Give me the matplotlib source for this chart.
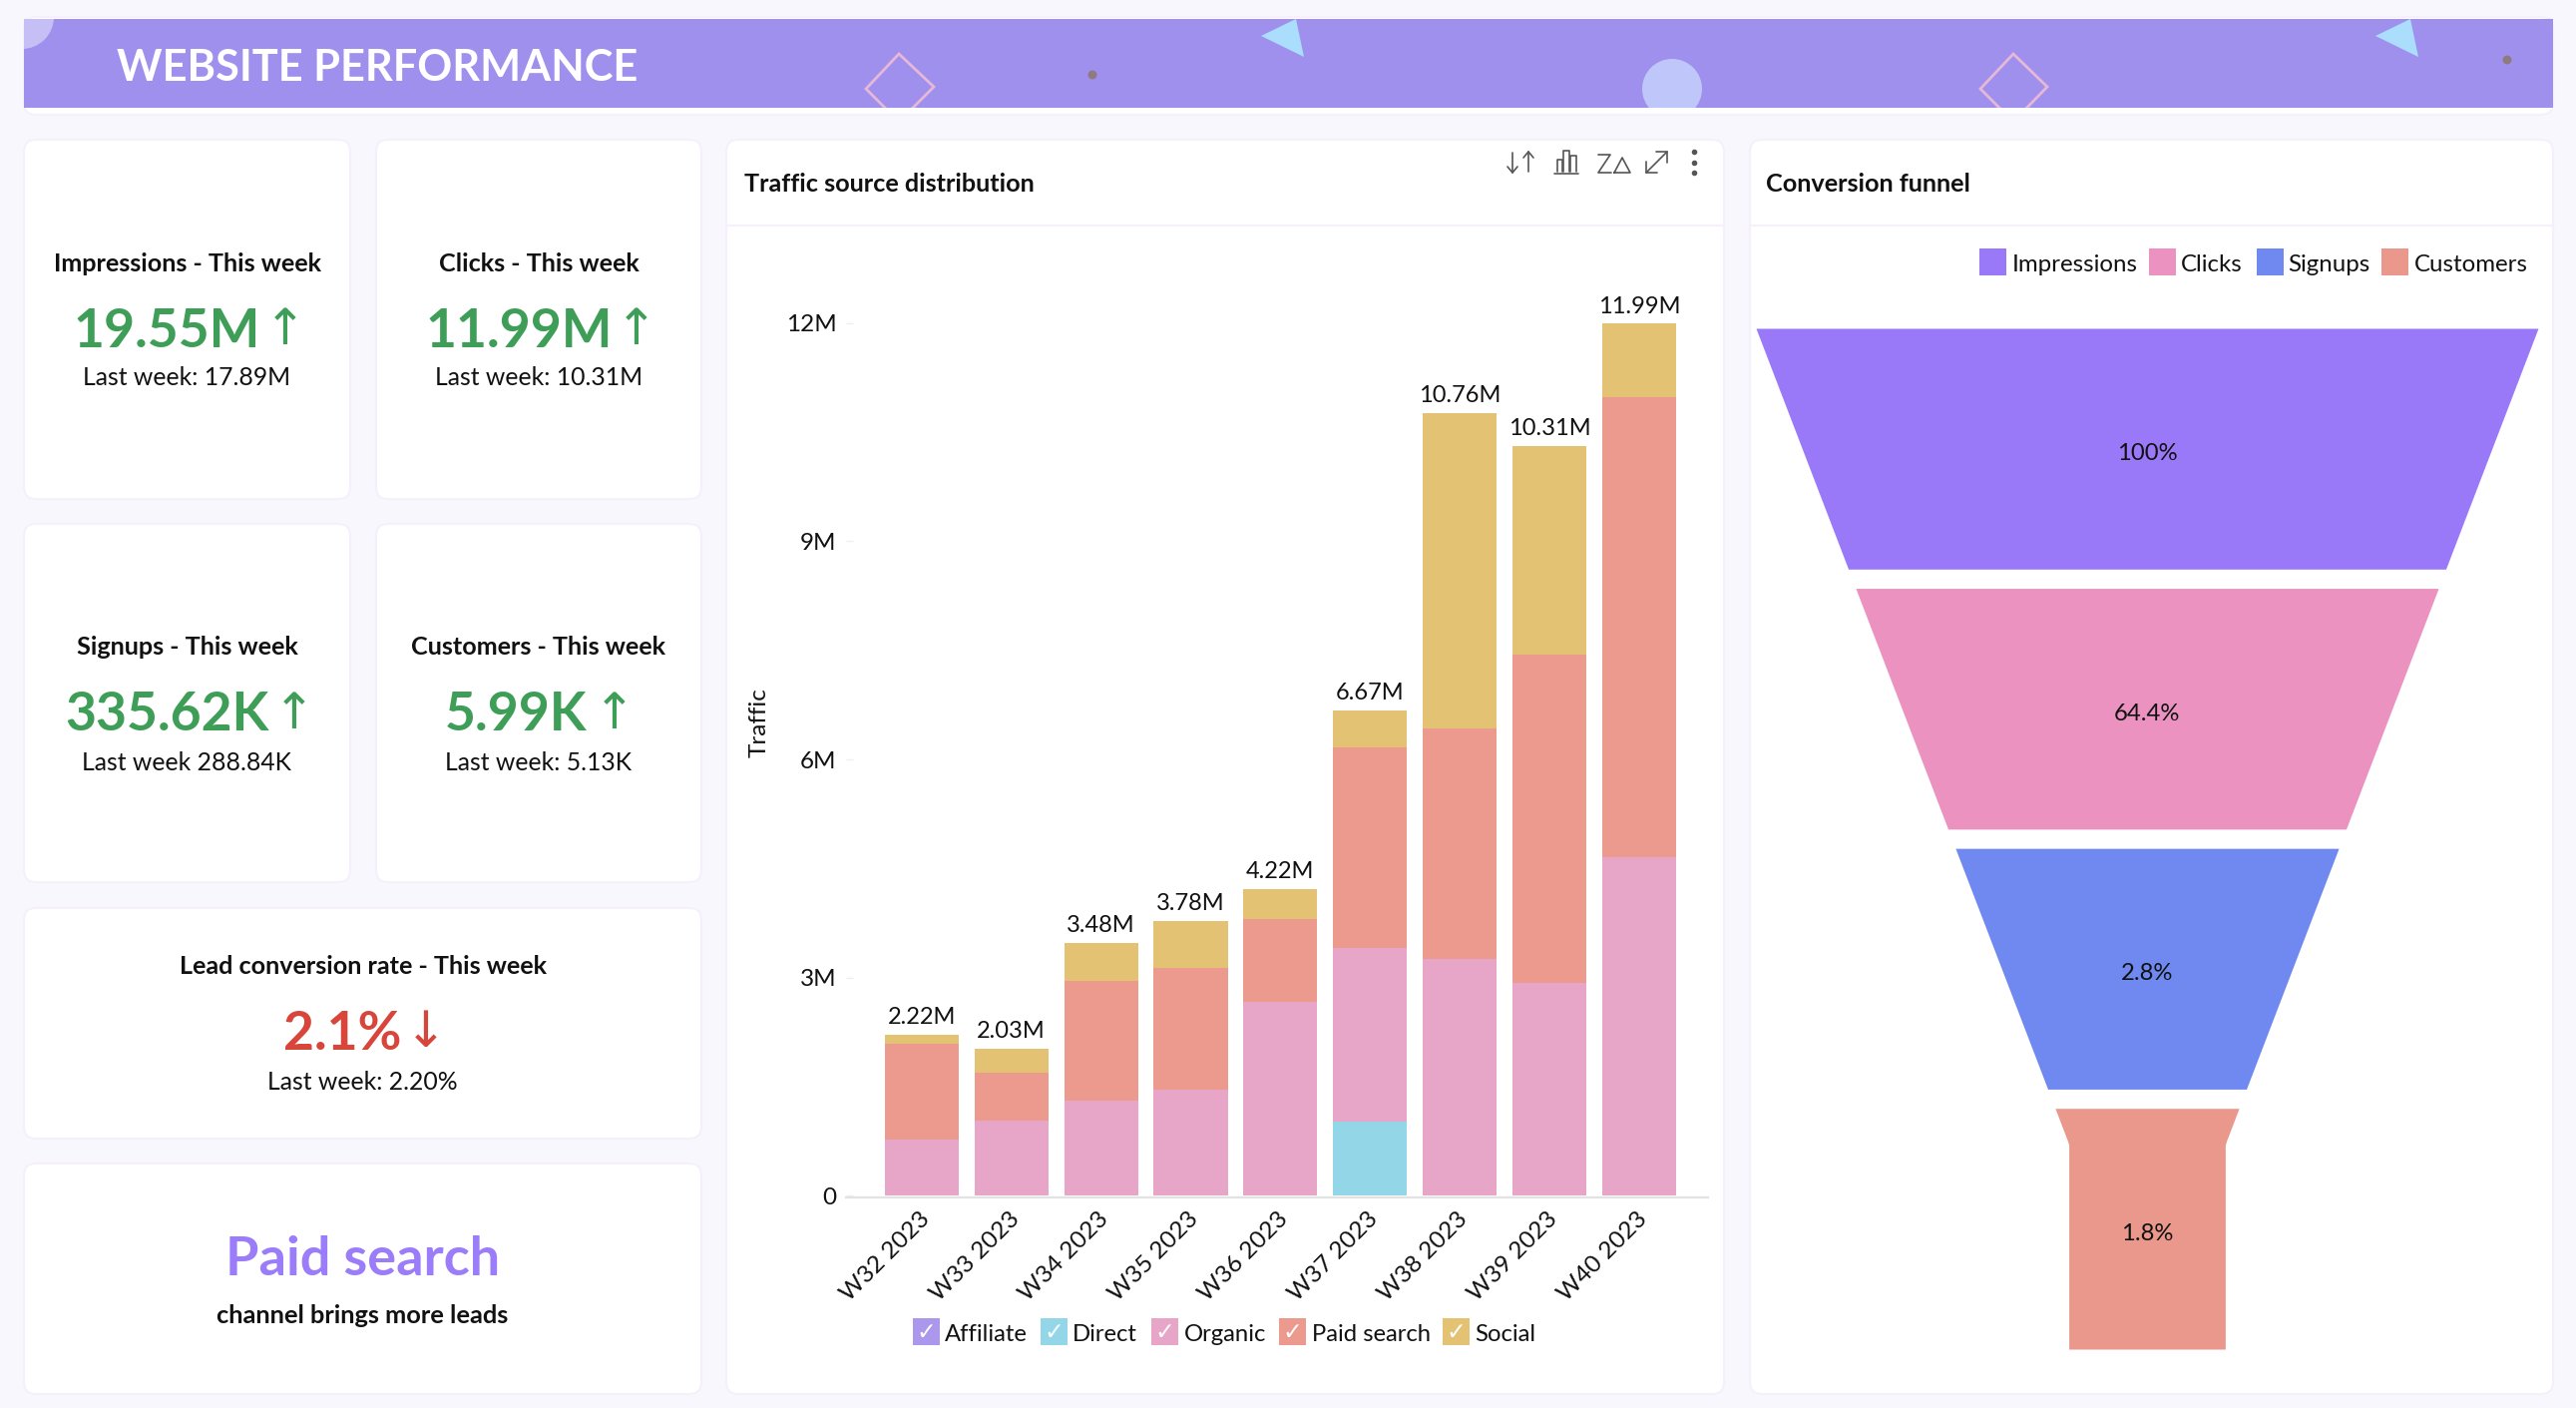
import numpy as np
import matplotlib
matplotlib.use("Agg")
import matplotlib.pyplot as plt
from matplotlib.patches import Circle, Ellipse, FancyBboxPatch, Polygon, Rectangle
from matplotlib.transforms import ScaledTranslation

plt.rcParams["font.family"] = ["Lato", "DejaVu Sans"]

# traffic chart data (millions)
weeks = ["W32 2023", "W33 2023", "W34 2023", "W35 2023", "W36 2023",
         "W37 2023", "W38 2023", "W39 2023", "W40 2023"]
affiliate = [0, 0, 0, 0, 0, 0, 0, 0, 0]
direct = [0, 0, 0, 0, 0, 1.02, 0, 0, 0]
organic = [0.77, 1.03, 1.31, 1.46, 2.67, 2.39, 3.26, 2.93, 4.66]
paid_search = [1.32, 0.67, 1.65, 1.68, 1.13, 2.76, 3.17, 4.51, 6.32]
social = [0.13, 0.33, 0.52, 0.64, 0.42, 0.50, 4.33, 2.87, 1.01]
total_labels = ["2.22M", "2.03M", "3.48M", "3.78M", "4.22M", "6.67M", "10.76M", "10.31M", "11.99M"]
y_ticks = [0, 3, 6, 9, 12]
y_tick_labels = ["0", "3M", "6M", "9M", "12M"]

# funnel data
funnel_stages = ["Impressions", "Clicks", "Signups", "Customers"]
funnel_labels = ["100%", "64.4%", "2.8%", "1.8%"]

BG = "#F8F7FE"
BORDER = "#F5F0FB"
GREEN = "#3E9E58"
RED = "#D8453B"
PURPLE = "#9B7CF9"
STACK_COLORS = {"Affiliate": "#AB97EC", "Direct": "#92D6E8", "Organic": "#E7A6C8",
                "Paid search": "#EC9A8D", "Social": "#E4C274"}
FUNNEL_COLORS = ["#9A79F9", "#EB92C0", "#6F89F0", "#EA988C"]

W, H = 2582, 1411
fig = plt.figure(figsize=(W / 100, H / 100), dpi=100, facecolor=BG)

# full figure axes in pixel coordinates for the dashboard furniture
bg = fig.add_axes([0, 0, 1, 1])
bg.set_xlim(0, W)
bg.set_ylim(H, 0)
bg.axis("off")


def px_axes(left, top, right, bottom):
    return fig.add_axes([left / W, 1 - bottom / H, (right - left) / W, (bottom - top) / H])


def card(x0, y0, x1, y1):
    bg.add_patch(FancyBboxPatch((x0, y0), x1 - x0, y1 - y0, boxstyle="round,pad=0,rounding_size=12",
                                fc="white", ec=BORDER, lw=1.5))


# banner
card(24, 17, 2559, 115)
banner = Rectangle((24, 19), 2535, 89, fc="#A090EE", ec="none")
bg.add_patch(banner)
shapes = [
    Circle((22, 17), 32, fc="#C6BFF6", ec="none"),
    Ellipse((1676, 89), 60, 60, fc="#BFC6F9", ec="none"),
    Polygon([(1264, 36), (1299, 19), (1307, 57)], fc="#ABDDFC", ec="none"),
    Polygon([(2381, 36), (2416, 19), (2424, 57)], fc="#ABDDFC", ec="none"),
    Polygon([(901, 54), (936, 87), (901, 122), (868, 89)], fc="none", ec="#E5B8D8", lw=2),
    Polygon([(2018, 54), (2052, 87), (2018, 122), (1985, 89)], fc="none", ec="#E5B8D8", lw=2),
    Circle((1095, 75), 4.5, fc="#8F7A80", ec="none"),
    Circle((2513, 60), 4.5, fc="#8F7A80", ec="none"),
]
for s in shapes:
    bg.add_patch(s)
    s.set_clip_path(banner)
bg.text(117, 68, "WEBSITE PERFORMANCE", color="white", fontsize=31.2, fontweight="bold",
        ha="left", va="center")

# kpi cards
card(24, 140, 351, 500)
card(377, 140, 703, 500)
card(24, 525, 351, 884)
card(377, 525, 703, 884)
card(24, 910, 703, 1141)
card(24, 1166, 703, 1397)
card(728, 140, 1728, 1397)
card(1754, 140, 2559, 1397)
bg.plot([728, 1728], [225.5, 225.5], color=BORDER, lw=1.5)
bg.plot([1754, 2559], [225.5, 225.5], color=BORDER, lw=1.5)


def kpi(title, value, last, cx, ytitle, yvalue, ylast, value_right, arrow_x, color=GREEN, arrow="↑"):
    bg.text(cx, ytitle + 1, title, fontsize=18.1, fontweight="bold", ha="center", va="center", color="#111111")
    bg.text(value_right, yvalue + 4, value, fontsize=38.5, fontweight="bold", ha="right", va="center", color=color)
    bg.text(arrow_x, yvalue + 3, arrow, fontsize=36, family="DejaVu Sans", ha="center", va="center", color=color)
    bg.text(cx, ylast + 1, last, fontsize=17.8, ha="center", va="center", color="#111111")


kpi("Impressions - This week", "19.55M", "Last week: 17.89M", 187.5, 263, 328, 378, 261, 286)
kpi("Clicks - This week", "11.99M", "Last week: 10.31M", 540, 263, 328, 378, 614, 638)
kpi("Signups - This week", "335.62K", "Last week 288.84K", 187.5, 648, 713, 763, 270, 295)
kpi("Customers - This week", "5.99K", "Last week: 5.13K", 540, 648, 713, 763, 588, 616)
kpi("Lead conversion rate - This week", "2.1%", "Last week: 2.20%", 363.5, 968, 1032, 1084, 402, 427,
    color=RED, arrow="↓")
bg.text(363.5, 1263, "Paid search", fontsize=39, fontweight="bold", ha="center", va="center", color=PURPLE)
bg.text(363.5, 1319, "channel brings more leads", fontsize=18.3, fontweight="bold", ha="center", va="center",
        color="#111111")

bg.text(746, 185, "Traffic source distribution", fontsize=18.2, fontweight="bold", ha="left", va="center",
        color="#111111")
bg.text(1770, 185, "Conversion funnel", fontsize=18.2, fontweight="bold", ha="left", va="center", color="#111111")

# toolbar icons over the bar chart
ICON = "#555555"
for xs, ys in [
    ([1516, 1516], [153, 173]), ([1511, 1516, 1521], [167, 173, 167]),
    ([1532, 1532], [152, 172]), ([1527, 1532, 1537], [158, 152, 158]),
    ([1558, 1582], [174, 174]),
    ([1561, 1561, 1566, 1566], [172, 160, 160, 172]), ([1567, 1567, 1573, 1573], [172, 151, 151, 172]),
    ([1574, 1574, 1580, 1580], [172, 156, 156, 172]),
    ([1602, 1614, 1602, 1615], [155, 155, 173, 173]), ([1618, 1626, 1634, 1618], [173, 158, 173, 173]),
    ([1650, 1671], [173, 152]), ([1660, 1671, 1671], [152, 152, 163]), ([1650, 1650, 1661], [162, 173, 173]),
]:
    bg.plot(xs, ys, color=ICON, lw=1.2, solid_capstyle="round")
bg.plot([1698, 1698, 1698], [152, 163, 173], "o", color=ICON, ms=3)

# stacked bars
ax = px_axes(847.5, 300, 1712, 1200)
ax.patch.set_alpha(0)
x = np.arange(len(weeks))
bottom = np.zeros(len(weeks))
for name, vals in [("Affiliate", affiliate), ("Direct", direct), ("Organic", organic),
                   ("Paid search", paid_search), ("Social", social)]:
    ax.bar(x, vals, width=0.824, bottom=bottom, color=STACK_COLORS[name], label=name)
    bottom = bottom + np.array(vals)
for xi, top, lab in zip(x, bottom, total_labels):
    ax.annotate(lab, (xi, top), xytext=(0, 12.5), textcoords="offset points", ha="center", va="center",
                fontsize=17, color="#111111")
ax.set_xlim(-0.85, 8.77)
ax.set_ylim(-0.0206, 12.325)
ax.set_yticks(y_ticks, y_tick_labels, va="center_baseline")
ax.set_xticks(x, weeks, rotation=45, ha="right", va="top", rotation_mode="anchor")
ax.tick_params(axis="y", direction="in", length=4.7, width=1, color="#EEEEEE", pad=6.5, labelsize=17.5,
               labelcolor="#111111")
ax.tick_params(axis="x", length=0, pad=8, labelsize=17.6, labelcolor="#111111")
nudge = ScaledTranslation(-3 / 100, 0, fig.dpi_scale_trans)
for lab in ax.get_xticklabels():
    lab.set_transform(lab.get_transform() + nudge)
for sp in ["top", "right", "left"]:
    ax.spines[sp].set_visible(False)
ax.spines["bottom"].set_color("#E2E2E2")
ax.spines["bottom"].set_linewidth(1.6)
bg.text(761, 724, "Traffic", rotation=90, fontsize=17.5, ha="center", va="center", color="#111111")

# legend with ticked boxes
legend_boxes = [("Affiliate", 914.5, 947), ("Direct", 1043, 1075), ("Organic", 1154, 1187),
                ("Paid search", 1282, 1315), ("Social", 1446, 1478)]
for name, bx, tx in legend_boxes:
    bg.add_patch(Rectangle((bx, 1321), 27, 27, fc=STACK_COLORS[name], ec="none"))
    bg.text(bx + 13.5, 1335, "✓", family="DejaVu Sans", fontsize=17, fontweight="bold", color="white",
            ha="center", va="center")
    bg.text(tx, 1338, name, fontsize=17.2, ha="left", va="center", color="#111111")

# funnel legend
funnel_legend = [(1984, 2017), (2154, 2186), (2262, 2293), (2387, 2420)]
for name, col, (bx, tx) in zip(funnel_stages, FUNNEL_COLORS, funnel_legend):
    bg.add_patch(Rectangle((bx, 249), 27, 27, fc=col, ec="none"))
    bg.text(tx, 265, name, fontsize=17.3, ha="left", va="center", color="#111111")

# funnel: equal height stages, width shrinks linearly down to a neck
fax = px_axes(1760, 329, 2544, 1352)
fax.set_xlim(-0.5, 0.5)
fax.set_ylim(3.926, 0)
fax.axis("off")
for i, (col, lab) in enumerate(zip(FUNNEL_COLORS, funnel_labels)):
    t = np.linspace(i, i + 0.926, 60)
    width = np.maximum(0.2, 1 - 0.255 * t)
    fax.fill_betweenx(t, -width / 2, width / 2, color=col, lw=0)
    fax.text(0, i + 0.482, lab, fontsize=17.2, ha="center", va="center", color="#111111")

fig.savefig("out.png", dpi=100, facecolor=BG)
